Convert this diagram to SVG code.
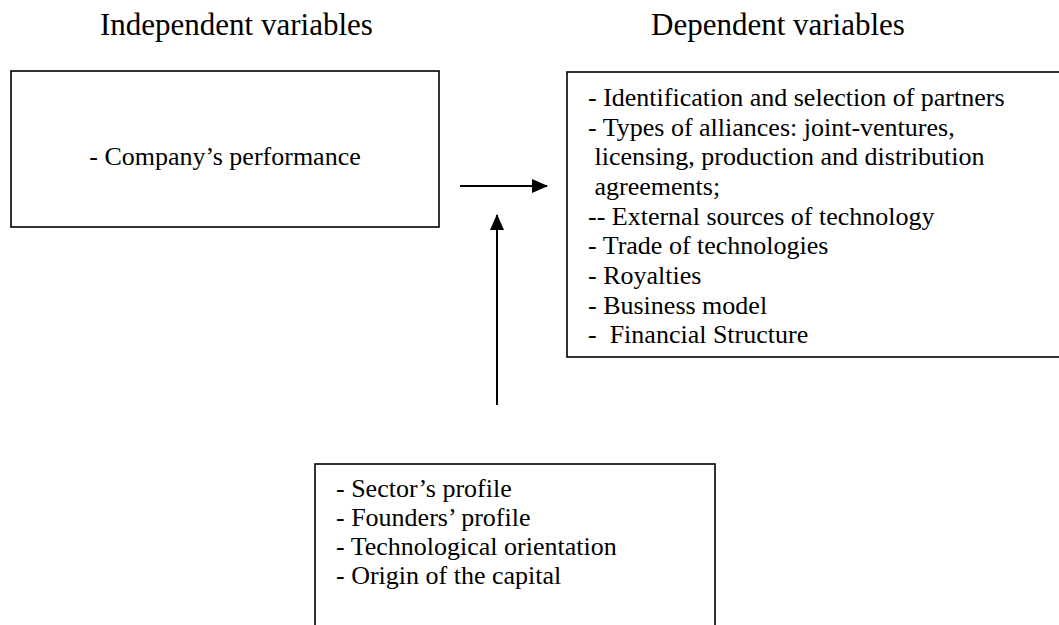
<svg xmlns="http://www.w3.org/2000/svg" width="1059" height="625" viewBox="0 0 1059 625">
<defs>
<marker id="ah" markerWidth="16" markerHeight="14" refX="15" refY="7" orient="auto" markerUnits="userSpaceOnUse">
<path d="M0,0 L16,7 L0,14 Z" fill="#000"/>
</marker>
<style>
.box{fill:#fff;stroke:#000;stroke-width:1.6}
.t{font-size:26px;fill:#000;white-space:pre}
.h{font-size:31px;fill:#000}
.c{stroke:#000;stroke-width:2;fill:none}
</style>
</defs>
<rect width="1059" height="625" fill="#fff"/>
<g font-family="'Liberation Serif', 'Times New Roman', Times, 'DejaVu Serif', serif">
<text class="h" x="100" y="35">Independent variables</text>
<text class="h" x="651" y="35">Dependent variables</text>
<g id="independent">
<rect class="box" x="11" y="71" width="428" height="156"/>
<text class="t" x="225" y="165" text-anchor="middle">- Company’s performance</text>
</g>
<g id="dependent">
<rect class="box" x="567" y="72" width="500" height="285"/>
<text class="t" x="588" y="106">- Identification and selection of partners</text>
<text class="t" x="588" y="136">- Types of alliances: joint-ventures,</text>
<text class="t" x="588" y="165"> licensing, production and distribution</text>
<text class="t" x="588" y="195"> agreements;</text>
<text class="t" x="588" y="225">-- External sources of technology</text>
<text class="t" x="588" y="254">- Trade of technologies</text>
<text class="t" x="588" y="284">- Royalties</text>
<text class="t" x="588" y="314">- Business model</text>
<text class="t" x="588" y="343">-  Financial Structure</text>
</g>
<g id="moderating">
<rect class="box" x="315" y="464" width="400" height="200"/>
<text class="t" x="336" y="497">- Sector’s profile</text>
<text class="t" x="336" y="526">- Founders’ profile</text>
<text class="t" x="336" y="555">- Technological orientation</text>
<text class="t" x="336" y="584">- Origin of the capital</text>
</g>
</g>
<g id="connectors">
<line class="c" x1="460" y1="186" x2="547" y2="186" marker-end="url(#ah)"/>
<line class="c" x1="497" y1="405" x2="497" y2="215" marker-end="url(#ah)"/>
</g>
</svg>
